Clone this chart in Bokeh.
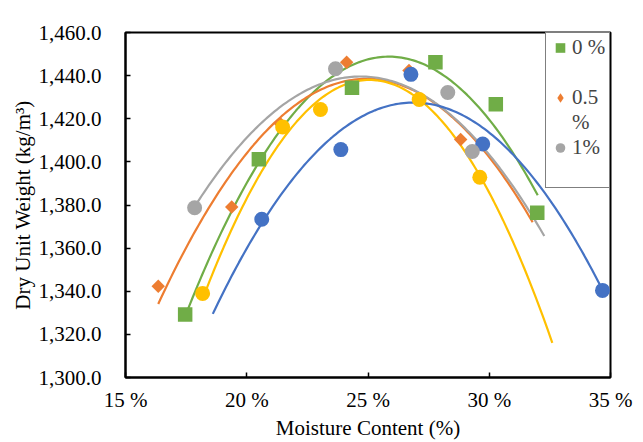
import numpy as np
from bokeh.plotting import figure
from bokeh.models import (Legend, LegendItem, NumeralTickFormatter, PrintfTickFormatter,
                          FixedTicker, Range1d, ColumnDataSource, CDSView, IndexFilter)
from bokeh.embed import file_html
from bokeh.resources import INLINE

# ---- data ----
green_x = [17.46, 20.50, 24.34, 27.78, 30.27, 31.98]
green_y = [1329.2, 1401.2, 1434.4, 1446.2, 1426.7, 1376.4]
orange_x = [16.35, 19.38, 21.38, 24.12, 26.69, 28.82]
orange_y = [1342.3, 1379.1, 1417.8, 1446.2, 1442.4, 1410.4]
gray_x = [17.85, 23.66, 28.29, 29.30]
gray_y = [1378.7, 1443.2, 1432.2, 1404.8]
yellow_x = [18.18, 21.48, 23.04, 27.11, 29.61]
yellow_y = [1339.0, 1416.2, 1424.3, 1428.9, 1392.9]
blue_x = [20.62, 23.88, 26.77, 29.73, 34.67]
blue_y = [1373.4, 1405.7, 1440.6, 1408.3, 1340.4]

# polynomial (order 2) trendlines: start / middle / end values
green_trend_x = [17.58, 25.85, 32.00]
green_trend_y = [1331.8, 1448.8, 1384.5]
orange_trend_x = [16.35, 25.00, 31.79]
orange_trend_y = [1334.1, 1438.5, 1372.0]
gray_trend_x = [17.86, 24.70, 32.27]
gray_trend_y = [1379.4, 1439.6, 1365.6]
yellow_trend_x = [18.18, 25.00, 32.60]
yellow_trend_y = [1336.4, 1438.0, 1316.1]
blue_trend_x = [18.60, 26.80, 34.67]
blue_trend_y = [1329.5, 1427.5, 1340.6]

legend_labels = ["0 %", " ", "0.5", "%", "1%", " "]
x_ticks = [15, 20, 25, 30, 35]
y_ticks = [1300, 1320, 1340, 1360, 1380, 1400, 1420, 1440, 1460]

GREEN, ORANGE, GRAY, YELLOW, BLUE = "#70AD47", "#ED7D31", "#A5A5A5", "#FFC000", "#4472C4"
FONT = "Times New Roman"
FS = "21px"

p = figure(width=636, height=435, output_backend="svg", toolbar_location=None,
           x_range=Range1d(15, 35), y_range=Range1d(1300, 1460),
           min_border_left=115, min_border_right=33, min_border_top=25, min_border_bottom=63)
p.styles = {"margin-left": "7px", "margin-top": "7px"}

p.xgrid.visible = False
p.ygrid.visible = False
p.outline_line_color = "black"
p.outline_line_width = 2
p.outline_line_alpha = 1

for ax in (p.xaxis[0], p.yaxis[0]):
    ax.axis_line_width = 2
    ax.axis_line_color = "black"
    ax.major_tick_in = 5
    ax.major_tick_out = 0
    ax.major_tick_line_width = 1.5
    ax.minor_tick_line_color = None
    ax.major_label_text_font = FONT
    ax.major_label_text_font_size = FS
    ax.major_label_text_color = "black"
    ax.axis_label_text_font = FONT
    ax.axis_label_text_font_size = FS
    ax.axis_label_text_font_style = "normal"
    ax.axis_label_text_color = "black"

p.xaxis.ticker = FixedTicker(ticks=x_ticks)
p.yaxis.ticker = FixedTicker(ticks=y_ticks)
p.xaxis.formatter = PrintfTickFormatter(format="%d %%")
p.yaxis.formatter = NumeralTickFormatter(format="0,0.0")
p.xaxis.axis_label = "Moisture Content (%)"
p.yaxis.axis_label = "Dry Unit Weight (kg/m³)"
p.xaxis.major_label_standoff = 10
p.yaxis.major_label_standoff = 24
p.xaxis.axis_label_standoff = 1
p.yaxis.axis_label_standoff = 1

trends = [
    (green_trend_x, green_trend_y, GREEN),
    (orange_trend_x, orange_trend_y, ORANGE),
    (gray_trend_x, gray_trend_y, GRAY),
    (yellow_trend_x, yellow_trend_y, YELLOW),
    (blue_trend_x, blue_trend_y, BLUE),
]
for tx, ty, col in trends:
    c = np.polyfit(tx, ty, 2)
    xx = np.linspace(min(tx), max(tx), 150)
    p.line(xx, np.polyval(c, xx), line_color=col, line_width=2.2)

orange_src = ColumnDataSource(dict(x=orange_x, y=orange_y))
# diamond glyph used for the legend entry; its single point sits beneath the real marker
leg_orange = p.scatter("x", "y", source=orange_src, view=CDSView(filter=IndexFilter([0])),
                       marker="diamond", size=9, fill_color=ORANGE, line_color=None)
r_orange = p.scatter("x", "y", source=orange_src, marker="square", angle=np.pi / 4, size=9.5,
                     fill_color=ORANGE, line_color=None)
r_yellow = p.scatter(yellow_x, yellow_y, marker="circle", size=15, fill_color=YELLOW, line_color=None)
r_blue = p.scatter(blue_x, blue_y, marker="circle", size=15, fill_color=BLUE, line_color=None)
r_gray = p.scatter(gray_x, gray_y, marker="circle", size=15, fill_color=GRAY, line_color=None)
r_green = p.scatter(green_x, green_y, marker="square", size=14.5, fill_color=GREEN, line_color=None)
r_blank = p.scatter([], [], marker="circle", size=0, fill_alpha=0, line_alpha=0)

legend = Legend(items=[LegendItem(label=legend_labels[0], renderers=[r_green]),
                       LegendItem(label=legend_labels[1], renderers=[r_blank]),
                       LegendItem(label=legend_labels[2], renderers=[leg_orange]),
                       LegendItem(label=legend_labels[3], renderers=[r_blank]),
                       LegendItem(label=legend_labels[4], renderers=[r_gray]),
                       LegendItem(label=legend_labels[5], renderers=[r_blank])],
                location="top_right", margin=0, padding=2, spacing=0,
                glyph_width=24, glyph_height=25, label_height=25, label_width=35,
                label_standoff=0,
                label_text_font=FONT, label_text_font_size=FS,
                border_line_color="black", border_line_width=1.5,
                background_fill_alpha=1)
p.add_layout(legend, "center")

open("out.html", "w").write(file_html(p, INLINE))
